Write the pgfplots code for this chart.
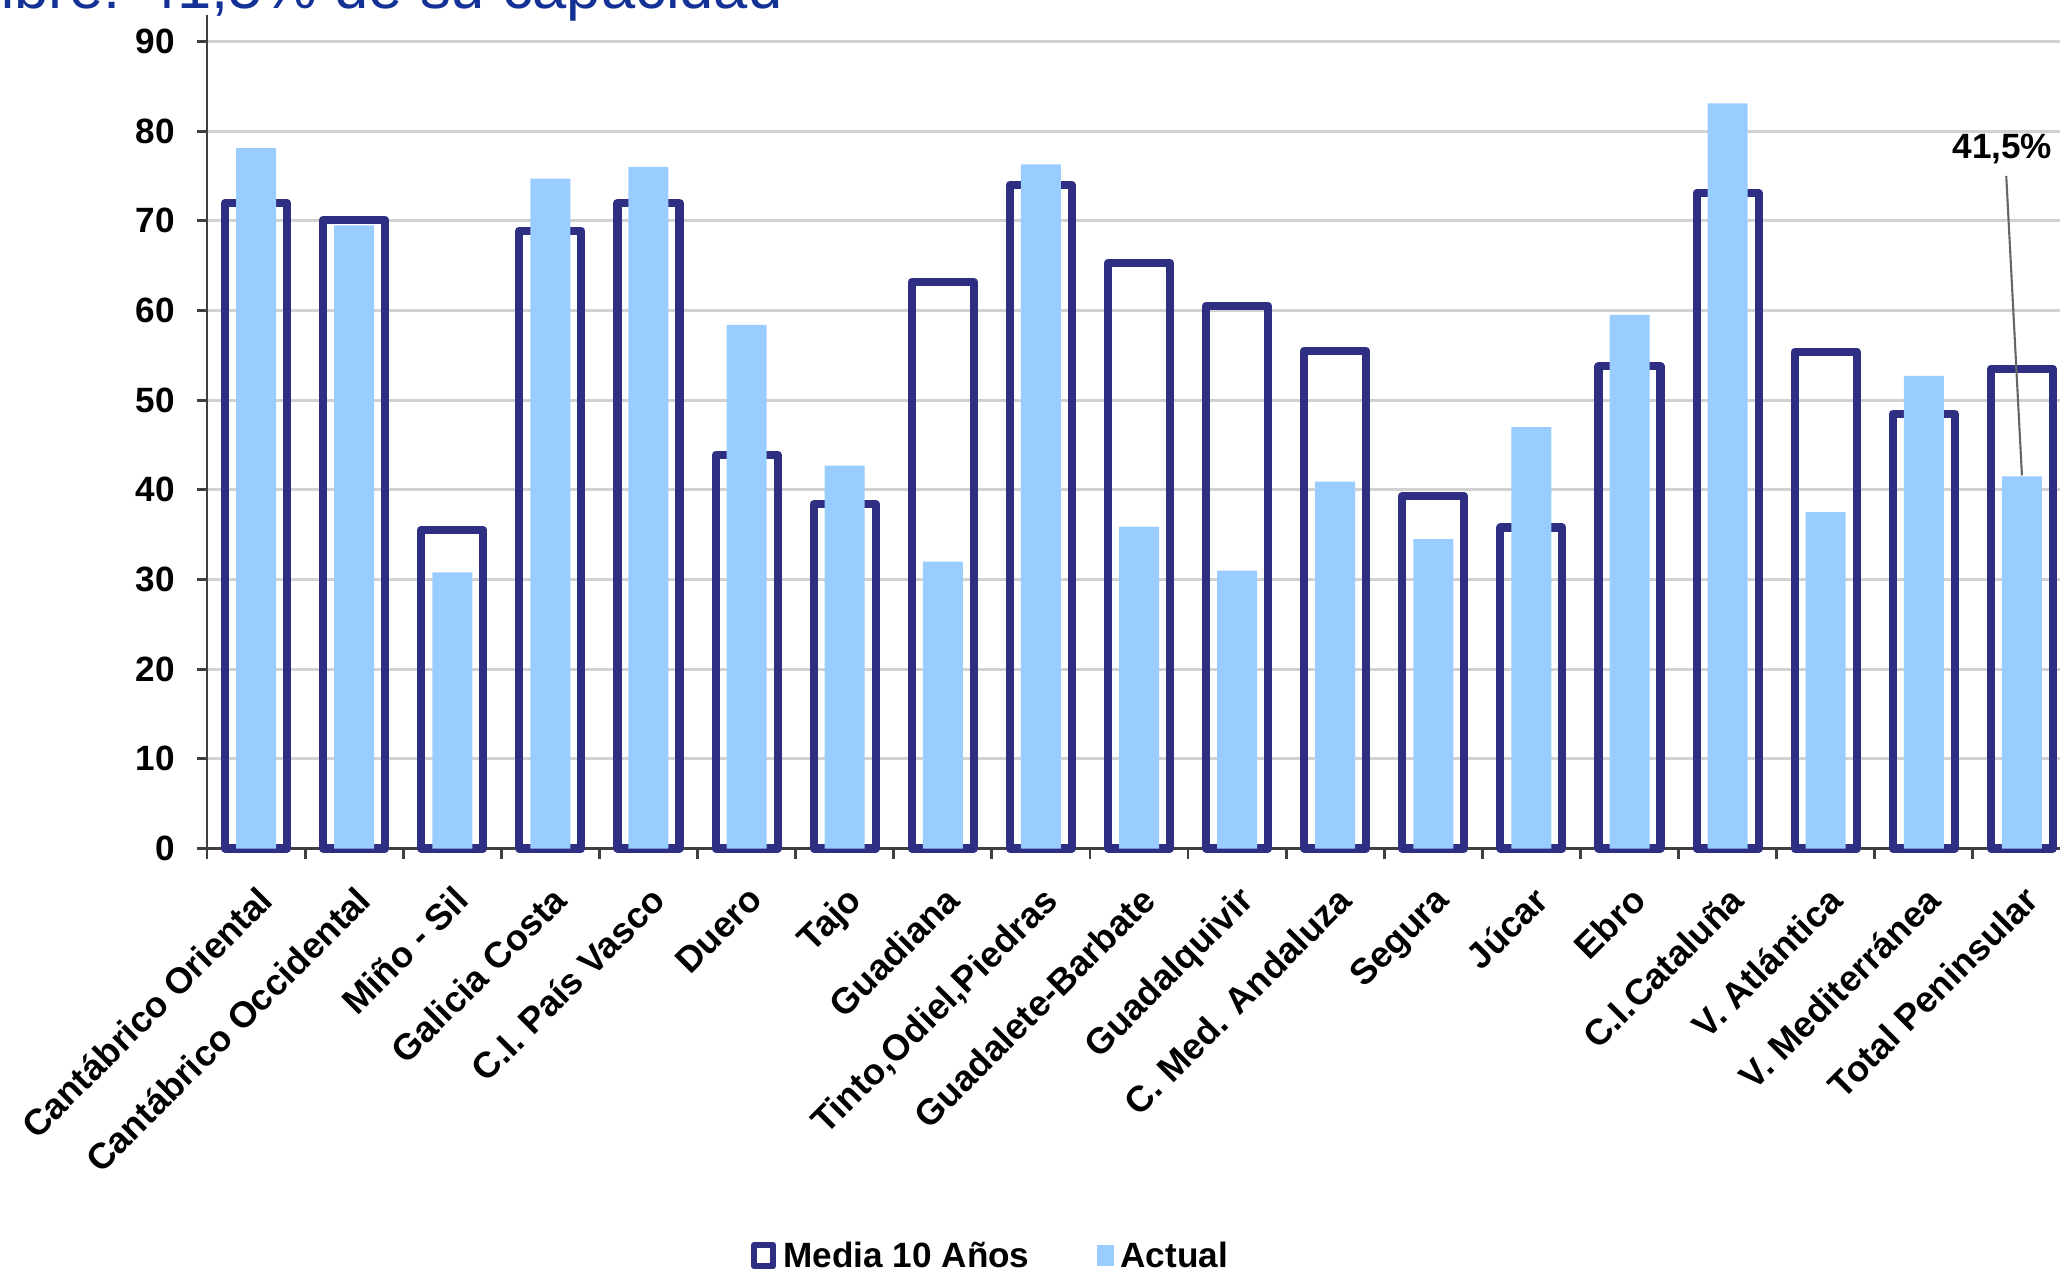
\documentclass[border=0pt]{standalone}
\usepackage{fontspec}
\setmainfont{Liberation Sans}
\usepackage{pgfplots}
\pgfplotsset{compat=1.18}

\definecolor{navy}{RGB}{46,46,130}
\definecolor{lightblue}{RGB}{153,204,255}
\definecolor{titleblue}{RGB}{20,50,150}

% Media 10 Años (outline) and Actual (filled), one value per basin
\pgfplotstableread{
x media actual
0  72.0 78.1
1  70.1 69.5
2  35.5 30.8
3  68.9 74.7
4  72.0 76.0
5  43.9 58.4
6  38.4 42.7
7  63.2 32.0
8  74.0 76.3
9  65.3 35.9
10 60.5 31.0
11 55.5 40.9
12 39.3 34.5
13 35.8 47.0
14 53.8 59.5
15 73.1 83.1
16 55.4 37.5
17 48.5 52.7
18 53.5 41.5
}\embalses

\begin{document}
\begin{tikzpicture}
\begin{axis}[
    scale only axis,
    width=18.64cm, height=8.34cm,
    at={(2.07cm,4.295cm)}, anchor=south west,
    xmin=-0.5, xmax=18.5,
    ymin=0, ymax=93,
    axis x line=bottom, axis y line=left,
    axis line style={-, black!75, line width=0.8pt},
    clip=false,
    xtick={0,...,18},
    xticklabels={Cantábrico Oriental, Cantábrico Occidental, Miño - Sil, Galicia Costa,
      C.I. País Vasco, Duero, Tajo, Guadiana, {Tinto,Odiel,Piedras}, Guadalete-Barbate,
      Guadalquivir, C. Med. Andaluza, Segura, Júcar, Ebro, C.I.Cataluña, V. Atlántica,
      V. Mediterránea, Total Peninsular},
    major x tick style={draw=none},
    minor xtick={-0.5,0.5,...,18.5},
    minor x tick style={black!75, line width=0.8pt},
    ytick={0,10,...,90},
    y tick style={black!75, line width=0.8pt},
    tick align=outside,
    major tick length=0.1cm, minor tick length=0.1cm,
    ymajorgrids,
    grid style={black!18, line width=0.8pt},
    /pgf/number format/assume math mode=true,
    xticklabel style={rotate=45, anchor=north east, inner sep=1pt,
      xshift=-0.14cm, yshift=-0.14cm,
      font=\fontsize{10.3}{12}\selectfont\bfseries},
    yticklabel style={xshift=-0.1cm, font=\fontsize{10}{12}\selectfont\bfseries},
    legend style={at={(0.4217,-0.49)}, anchor=center, draw=none, fill=none,
      legend columns=2, font=\fontsize{10}{12}\selectfont\bfseries,
      /tikz/every even column/.append style={column sep=0.6cm}},
]
\addplot[ybar, bar width=0.62cm, bar shift=0pt, draw=navy, fill=none,
    line width=2.3pt, line join=round,
    legend image code/.code={\draw[navy, line width=1.8pt] (0cm,-0.09cm) rectangle (0.19cm,0.12cm);}]
    table[x=x, y=media] {\embalses};
\addlegendentry{Media 10 Años}
\addplot[ybar, bar width=0.40cm, bar shift=0pt, draw=none, fill=lightblue,
    legend image code/.code={\fill[lightblue] (0cm,-0.09cm) rectangle (0.17cm,0.12cm);}]
    table[x=x, y=actual] {\embalses};
\addlegendentry{Actual}

\node[font=\fontsize{10}{12}\selectfont\bfseries] at (axis cs:17.80,78) {41,5\%};
\draw[black!60, line width=0.6pt] (axis cs:17.84,75) -- (axis cs:18,41.6);
\end{axis}

\node[anchor=base east, text=titleblue, font=\fontsize{17.5}{20}\selectfont]
    at (7.95cm,12.69cm) {Noviembre: 41,5\% de su capacidad};

\pgfresetboundingbox
\path[use as bounding box] (0,0) rectangle (20.60cm,12.78cm);
\end{tikzpicture}
\end{document}
